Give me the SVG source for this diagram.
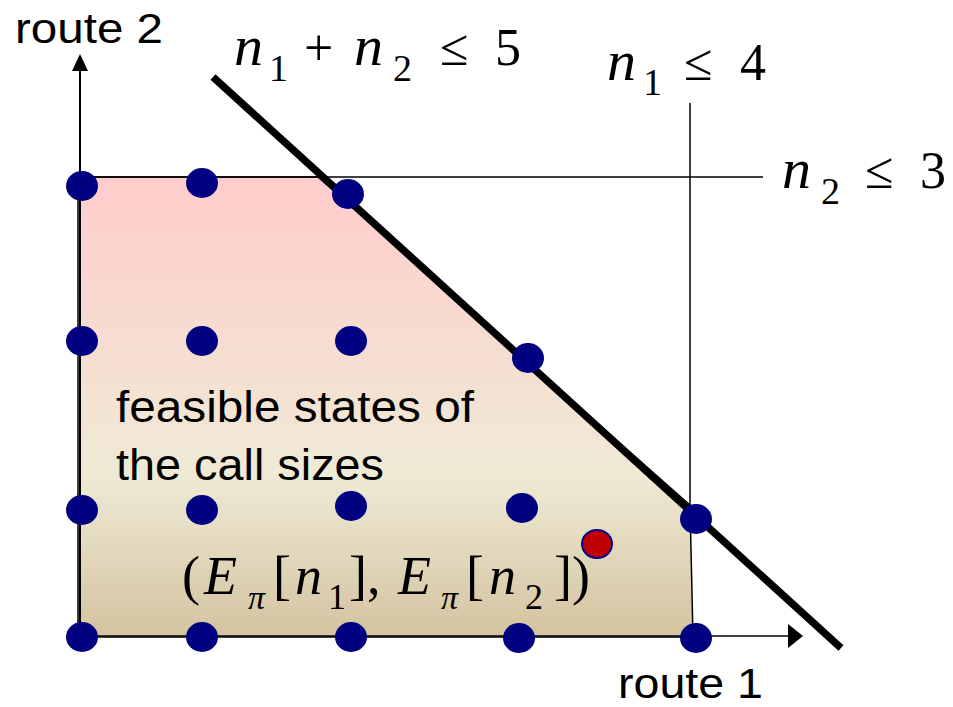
<svg xmlns="http://www.w3.org/2000/svg" width="953" height="707" viewBox="0 0 953 707">
<defs>
<linearGradient id="fill" gradientUnits="userSpaceOnUse" x1="0" y1="177" x2="0" y2="637">
<stop offset="0" stop-color="#ffcccc"/>
<stop offset="0.65" stop-color="#efead5"/>
<stop offset="1" stop-color="#d3c3a0"/>
</linearGradient>
<style>
.sans{font-family:"Liberation Sans",Arial,sans-serif;fill:#000}
.math{font-family:"Liberation Serif","Times New Roman",serif;fill:#000}
.it{font-style:italic}
.dot{fill:#000080}
.thin{stroke:#000;stroke-width:1.5;fill:none}
</style>
</defs>
<rect width="953" height="707" fill="#fff"/>

<g id="region">
<path d="M78,177 L318,177 L690,505 L693,637 L78,637 Z" fill="url(#fill)" stroke="#000" stroke-width="1.5"/>
</g>

<g id="connectors">
<line class="thin" x1="78" y1="177" x2="763" y2="177"/>
<line class="thin" x1="690" y1="103" x2="690" y2="505"/>
<line x1="80" y1="637" x2="80" y2="68" stroke="#000" stroke-width="2"/>
<polygon points="80,54 72,71 88,71" fill="#000"/>
<line x1="78" y1="636" x2="790" y2="636" stroke="#000" stroke-width="1.5"/>
<polygon points="803,636 788,624 788,648" fill="#000"/>
<line x1="213" y1="77" x2="841" y2="648" stroke="#000" stroke-width="7.5"/>
</g>

<g id="dots">
<ellipse class="dot" cx="82" cy="186" rx="16" ry="15"/>
<ellipse class="dot" cx="202" cy="183" rx="16" ry="15"/>
<ellipse class="dot" cx="348" cy="194" rx="16" ry="15"/>
<ellipse class="dot" cx="82" cy="341" rx="16" ry="15"/>
<ellipse class="dot" cx="202" cy="341" rx="16" ry="15"/>
<ellipse class="dot" cx="351" cy="341" rx="16" ry="15"/>
<ellipse class="dot" cx="528" cy="358" rx="16" ry="15"/>
<ellipse class="dot" cx="82" cy="510" rx="16" ry="15"/>
<ellipse class="dot" cx="202" cy="510" rx="16" ry="15"/>
<ellipse class="dot" cx="351" cy="506" rx="16" ry="15"/>
<ellipse class="dot" cx="522" cy="508" rx="16" ry="15"/>
<ellipse class="dot" cx="696" cy="519" rx="16" ry="15"/>
<ellipse class="dot" cx="82" cy="637" rx="16" ry="15"/>
<ellipse class="dot" cx="202" cy="637" rx="16" ry="15"/>
<ellipse class="dot" cx="351" cy="637" rx="16" ry="15"/>
<ellipse class="dot" cx="519" cy="638" rx="16" ry="15"/>
<ellipse class="dot" cx="696" cy="638" rx="16" ry="15"/>
<ellipse cx="597" cy="544" rx="15" ry="14" fill="#c00000" stroke="#000080" stroke-width="2"/>
</g>

<g id="labels">
<text class="sans" x="15" y="43" font-size="43" textLength="148" lengthAdjust="spacingAndGlyphs">route 2</text>
<text class="sans" x="618" y="698" font-size="42" textLength="145" lengthAdjust="spacingAndGlyphs">route 1</text>
<text class="sans" x="116" y="422" font-size="44" textLength="358" lengthAdjust="spacingAndGlyphs">feasible states of</text>
<text class="sans" x="116" y="480" font-size="44" textLength="268" lengthAdjust="spacingAndGlyphs">the call sizes</text>
</g>

<g id="constraint-sum">
<text x="234" y="65" font-size="58" class="math it">n</text>
<text x="269" y="81" font-size="38" class="math">1</text>
<text x="304" y="65" font-size="52" class="math">+</text>
<text x="354" y="65" font-size="58" class="math it">n</text>
<text x="393" y="81" font-size="38" class="math">2</text>
<text x="440" y="65" font-size="52" class="math">≤</text>
<text x="495" y="65" font-size="52" class="math">5</text>
</g>

<g id="constraint-n1">
<text x="607" y="80" font-size="58" class="math it">n</text>
<text x="643" y="95" font-size="38" class="math">1</text>
<text x="684" y="80" font-size="52" class="math">≤</text>
<text x="740" y="80" font-size="52" class="math">4</text>
</g>

<g id="constraint-n2">
<text x="782" y="188" font-size="58" class="math it">n</text>
<text x="821" y="204" font-size="38" class="math">2</text>
<text x="865" y="188" font-size="52" class="math">≤</text>
<text x="920" y="188" font-size="52" class="math">3</text>
</g>

<g id="expectation">
<text x="182" y="594" font-size="54" class="math">(</text>
<text x="204" y="594" font-size="54" class="math it">E</text>
<text x="248" y="609" font-size="34" class="math it">π</text>
<text x="273" y="594" font-size="54" class="math">[</text>
<text x="295" y="594" font-size="54" class="math it">n</text>
<text x="328" y="609" font-size="36" class="math">1</text>
<text x="349" y="594" font-size="54" class="math">],</text>
<text x="398" y="594" font-size="54" class="math it">E</text>
<text x="441" y="609" font-size="34" class="math it">π</text>
<text x="466" y="594" font-size="54" class="math">[</text>
<text x="489" y="594" font-size="54" class="math it">n</text>
<text x="525" y="609" font-size="36" class="math">2</text>
<text x="554" y="594" font-size="54" class="math">])</text>
</g>
</svg>
